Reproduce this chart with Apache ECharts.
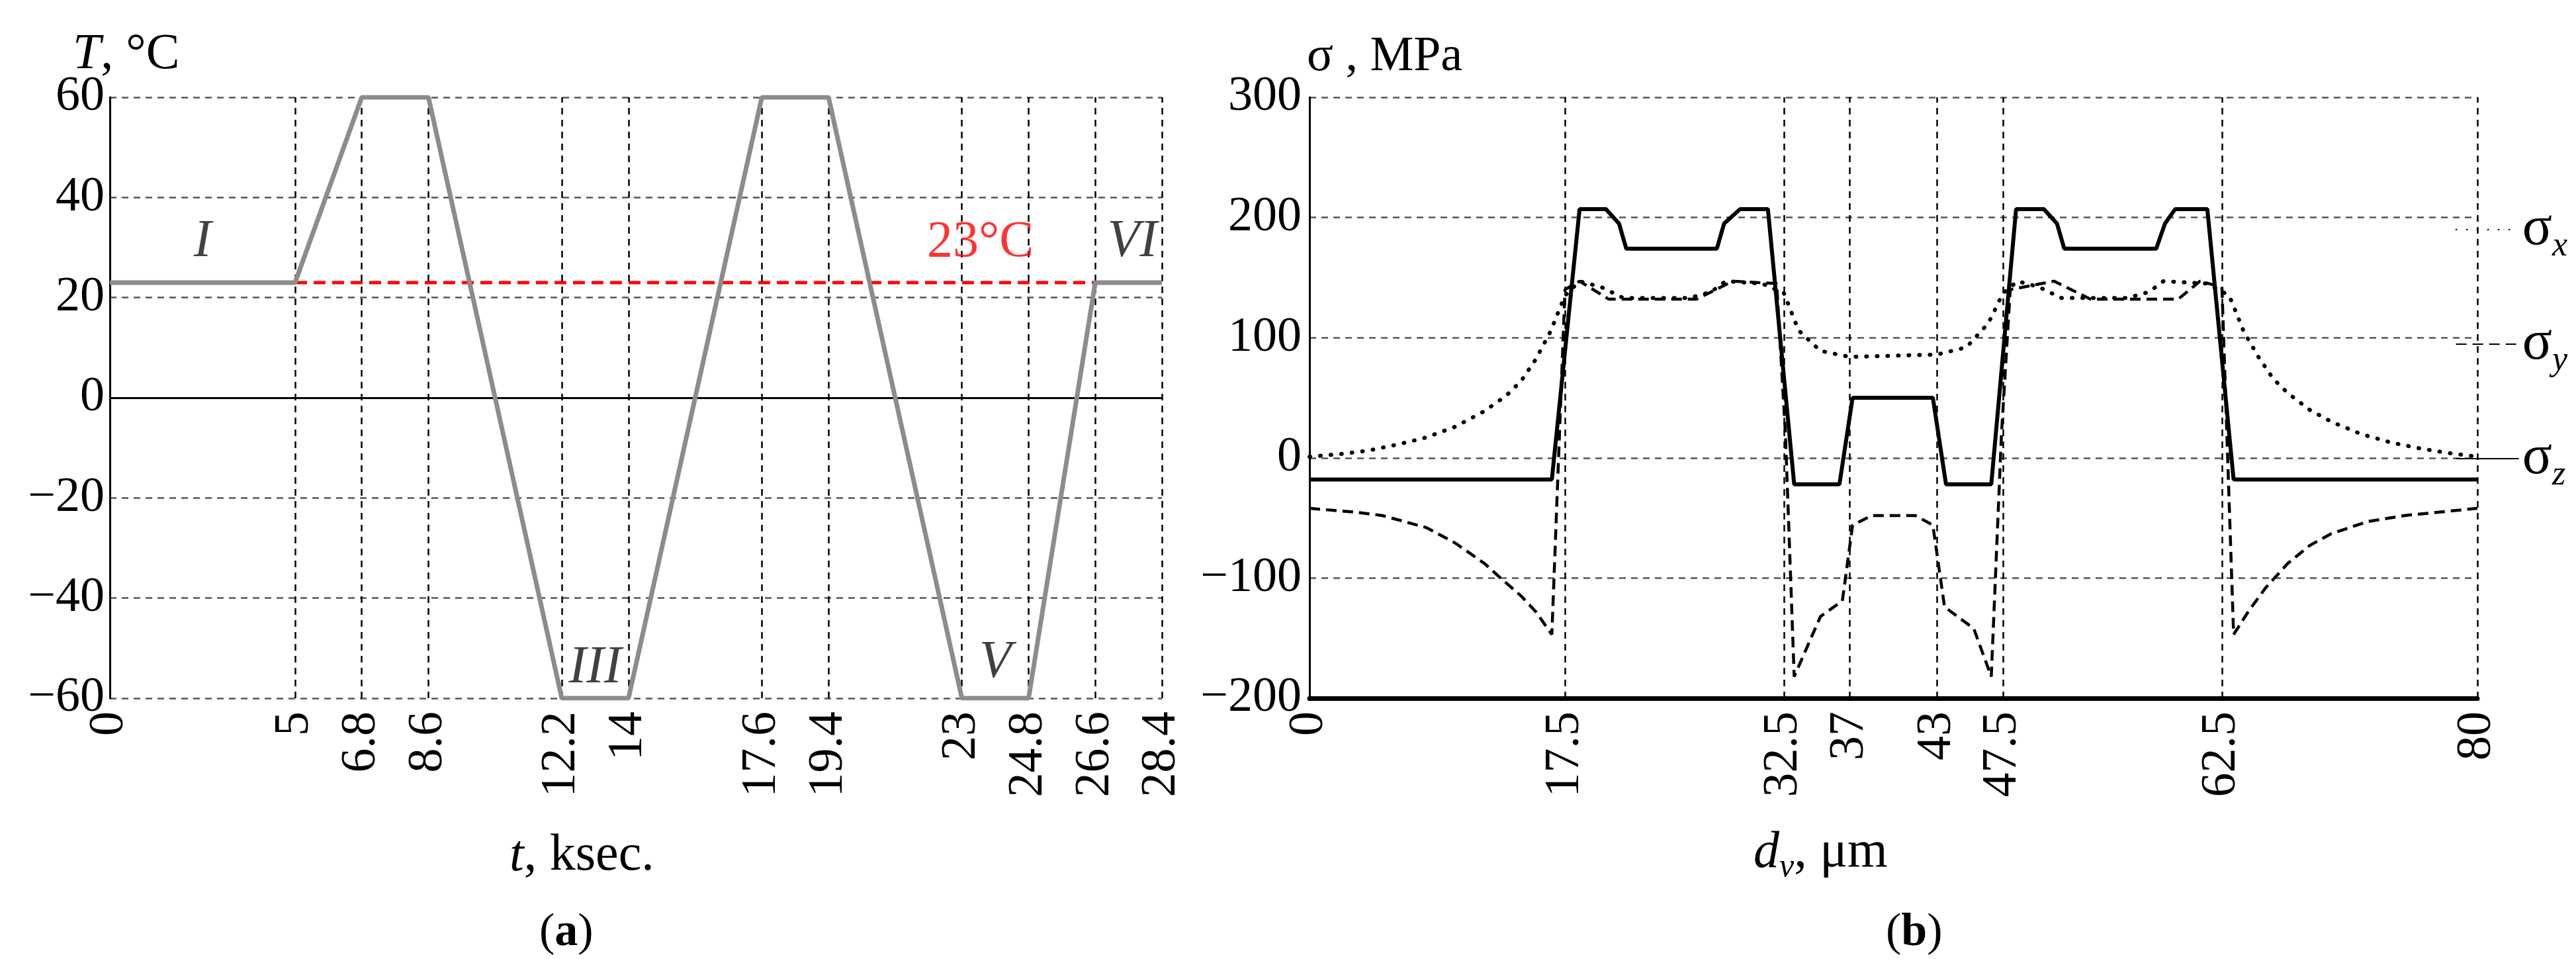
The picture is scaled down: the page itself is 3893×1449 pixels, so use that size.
<!DOCTYPE html>
<html><head><meta charset="utf-8">
<script src="https://cdn.jsdelivr.net/npm/echarts@6/dist/echarts.min.js"></script>
<style>html,body{margin:0;background:#fff}#c{width:3893px;height:1449px}</style>
</head><body><div id="c"></div>
<script>
// --- panel (a): temperature cycle ---
const tTicks = [0, 5, 6.8, 8.6, 12.2, 14, 17.6, 19.4, 23, 24.8, 26.6, 28.4];
const tempCurve = [[0,23],[5,23],[6.8,60],[8.6,60],[12.2,-60],[14,-60],[17.6,60],[19.4,60],[23,-60],[24.8,-60],[26.6,23],[28.4,23]];
const refLine = [[5,23],[26.6,23]];
const stageLabels = [[2.5,31,'I'],[7.6,67,'II'],[13.1,-54,'III'],[18.5,67,'IV'],[23.9,-53,'V'],[27.6,31,'VI']];

// --- panel (b): stresses ---
const dTicks = [0, 17.5, 32.5, 37, 43, 47.5, 62.5, 80];
const sigmaX = [[0,1],[2,3],[4,6],[6,11],[8,17],[10,26],[12,39],[13.5,52],[14.5,64],[15.5,82],[16.5,105],[17.5,135],[18.5,147],[20,142],[21.5,133],[26,133],[27.5,138],[28.5,147],[31,145],[32.5,137],[33.5,106],[35,89],[37,84],[40,85],[43,86],[45,92],[46.5,112],[47.5,137],[48.5,147],[50,142],[51.5,133],[56,133],[57.5,138],[58.5,147],[61.5,145],[63,135],[64,105],[65,84],[66,66],[67,54],[68.5,40],[70,30],[72,20],[74,13],[76,8],[78,4],[80,1]];
const sigmaY = [[0,-42],[3,-45],[5,-48],[8,-58],[10,-71],[12,-88],[13,-99],[14.5,-115],[15.5,-128],[16.6,-147],[17.5,140],[18.5,147],[20.5,132],[26.5,132],[29,147],[32,145],[32.6,20],[33.2,-182],[35,-132],[36.5,-119],[37.2,-56],[38.5,-48],[41.5,-48],[42.7,-56],[43.5,-124],[45.5,-142],[46.7,-182],[47.4,20],[48,140],[51,147],[53.5,132],[59.5,132],[61,147],[62.5,142],[63.3,-147],[64.3,-128],[65.5,-108],[67,-88],[68.5,-73],[70,-63],[72.5,-53],[75,-48],[80,-42]];
const sigmaZ = [[0,-18],[16.6,-18],[18.5,207],[20.3,207],[21.2,195],[21.7,174],[27.9,174],[28.4,195],[29.5,207],[31.4,207],[33.2,-22],[36.3,-22],[37.2,50],[42.7,50],[43.6,-22],[46.7,-22],[48.4,207],[50.3,207],[51.2,195],[51.7,174],[58,174],[58.6,195],[59.3,207],[61.5,207],[63.3,-18],[80,-18]];

const serif = 'Liberation Serif';
const chart = echarts.init(document.getElementById('c'));

function vLines(ticks, skipFirst) {
  return ticks.filter((v, i) => !(skipFirst && i === 0)).map(v => ({ xAxis: v }));
}
const labelFont = { fontFamily: serif, fontSize: 74, color: '#000' };
const minus = v => v < 0 ? '\u2212' + (-v) : v;

chart.setOption({
  animation: false,
  grid: [
    { left: 166, width: 1590, top: 147, height: 908 },
    { left: 1979, width: 1765, top: 147, height: 908 }
  ],
  xAxis: [
    { gridIndex: 0, type: 'value', min: 0, max: 28.4,
      axisLine: { show: false }, splitLine: { show: false }, axisTick: { show: false },
      axisLabel: Object.assign({ customValues: tTicks, rotate: 90, margin: 20 }, labelFont) },
    { gridIndex: 1, type: 'value', min: 0, max: 80,
      axisLine: { show: true, onZero: false, lineStyle: { color: '#000', width: 7 } },
      splitLine: { show: false }, axisTick: { show: false },
      axisLabel: Object.assign({ customValues: dTicks, rotate: 90, margin: 20 }, labelFont) }
  ],
  yAxis: [
    { gridIndex: 0, type: 'value', min: -60, max: 60, interval: 20,
      axisLine: { show: true, onZero: false, lineStyle: { color: '#000', width: 3 } },
      axisTick: { show: false },
      splitLine: { lineStyle: { color: '#555', type: [10, 8], width: 2.5 } },
      axisLabel: Object.assign({ margin: 8 }, labelFont, { formatter: minus }) },
    { gridIndex: 1, type: 'value', min: -200, max: 300, interval: 100,
      axisLine: { show: true, onZero: false, lineStyle: { color: '#000', width: 3 } },
      axisTick: { show: false },
      splitLine: { lineStyle: { color: '#555', type: [10, 8], width: 2.5 } },
      axisLabel: Object.assign({ margin: 12 }, labelFont, { formatter: minus }) }
  ],
  legend: {
    orient: 'vertical', right: 8, top: 300, itemGap: 80, itemWidth: 95, itemHeight: 20,
    data: ['x', 'y', 'z'],
    itemStyle: { opacity: 0 },
    formatter: n => '{s|σ}{b|' + n + '}',
    textStyle: { rich: {
      s: { fontFamily: serif, fontSize: 84, color: '#000' },
      b: { fontFamily: serif, fontSize: 52, fontStyle: 'italic', color: '#000', padding: [50, 0, 0, 0] }
    } }
  },
  series: [
    { type: 'line', xAxisIndex: 0, yAxisIndex: 0, data: tempCurve, symbol: 'none',
      lineStyle: { color: '#8c8c8c', width: 7 }, z: 5,
      markLine: { silent: true, symbol: 'none', label: { show: false },
        lineStyle: { color: '#000', type: [10, 8], width: 2.5 },
        data: vLines(tTicks, true).concat([{ yAxis: 0, lineStyle: { type: 'solid', width: 3 } }]) } },
    { type: 'line', xAxisIndex: 0, yAxisIndex: 0, data: refLine, symbol: 'none', z: 4,
      lineStyle: { color: '#ff0000', width: 5, type: [18, 10] } },
    { type: 'scatter', xAxisIndex: 0, yAxisIndex: 0, symbolSize: 0, z: 6,
      data: stageLabels.map(d => ({ value: [d[0], d[1]], name: d[2] })),
      label: { show: true, position: 'inside', formatter: p => p.name,
        fontFamily: serif, fontStyle: 'italic', fontSize: 80, color: '#111' } },
    { type: 'scatter', xAxisIndex: 0, yAxisIndex: 0, symbolSize: 0, z: 6,
      data: [[23.5, 31]],
      label: { show: true, position: 'inside', formatter: '23°C',
        fontFamily: serif, fontSize: 78, color: '#ff0000' } },
    { name: 'x', type: 'line', xAxisIndex: 1, yAxisIndex: 1, data: sigmaX, symbol: 'none',
      lineStyle: { color: '#000', width: 6, type: [1, 15], cap: 'round' }, itemStyle: { color: '#000' },
      markLine: { silent: true, symbol: 'none', label: { show: false },
        lineStyle: { color: '#000', type: [10, 8], width: 2.5 },
        data: vLines(dTicks, true) } },
    { name: 'y', type: 'line', xAxisIndex: 1, yAxisIndex: 1, data: sigmaY, symbol: 'none',
      lineStyle: { color: '#000', width: 4.5, type: [16, 9] }, itemStyle: { color: '#000' } },
    { name: 'z', type: 'line', xAxisIndex: 1, yAxisIndex: 1, data: sigmaZ, symbol: 'none',
      lineStyle: { color: '#000', width: 6 }, itemStyle: { color: '#000' } }
  ],
  graphic: [
    { type: 'text', left: 110, top: 45, style: { text: '{i|T}, °C', rich: { i: { fontStyle: 'italic', fontFamily: serif, fontSize: 76 } }, fontFamily: serif, fontSize: 76, fill: '#000' } },
    { type: 'text', left: 1975, top: 50, style: { text: 'σ , MPa', fontFamily: serif, fontSize: 74, fill: '#000' } },
    { type: 'text', left: 770, top: 1255, style: { text: '{i|t}, ksec.', rich: { i: { fontStyle: 'italic', fontFamily: serif, fontSize: 78 } }, fontFamily: serif, fontSize: 78, fill: '#000' } },
    { type: 'text', left: 2650, top: 1250, style: { text: '{i|d}{s|v}, μm', rich: { i: { fontStyle: 'italic', fontFamily: serif, fontSize: 78 }, s: { fontStyle: 'italic', fontFamily: serif, fontSize: 50, padding: [44, 0, 0, 0] } }, fontFamily: serif, fontSize: 78, fill: '#000' } },
    { type: 'text', left: 815, top: 1375, style: { text: '({b|a})', rich: { b: { fontWeight: 'bold', fontFamily: serif, fontSize: 70 } }, fontFamily: serif, fontSize: 70, fill: '#000' } },
    { type: 'text', left: 2850, top: 1375, style: { text: '({b|b})', rich: { b: { fontWeight: 'bold', fontFamily: serif, fontSize: 70 } }, fontFamily: serif, fontSize: 70, fill: '#000' } }
  ]
});
</script></body></html>
